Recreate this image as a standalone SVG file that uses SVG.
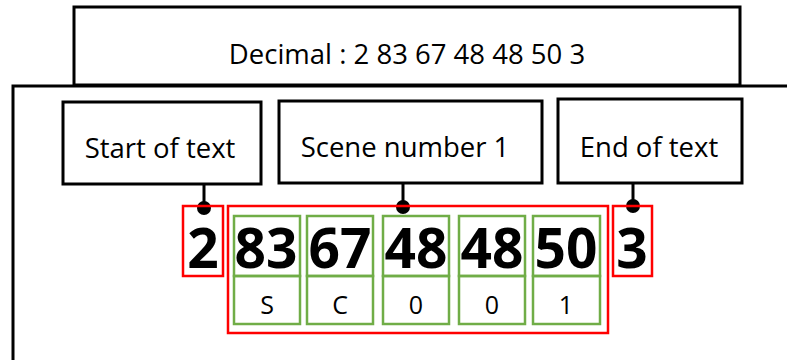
<svg xmlns="http://www.w3.org/2000/svg" width="787" height="360" viewBox="0 0 787 360">
<style>
.blk{fill:#fff;stroke:#000;stroke-width:3}
.red{fill:none;stroke:#ff0000;stroke-width:2.5}
.grn{fill:none;stroke:#70ad47;stroke-width:2.5}
.t{font-family:"Open Sans","Noto Sans",sans-serif;fill:#000;text-anchor:middle}
.lbl{font-size:27.5px}
.big{font-size:55px;font-weight:bold}
.sm{font-size:25px}
.con{stroke:#000;stroke-width:3;fill:none}
</style>
<rect id="frame" x="13" y="86" width="800" height="300" class="blk"/>
<g id="decimal"><rect x="74" y="7" width="666" height="78" class="blk"/><text class="t lbl" x="407" y="64">Decimal : 2 83 67 48 48 50 3</text></g>
<g id="start"><rect x="63" y="102" width="198" height="82" class="blk"/><text class="t lbl" x="160" y="158">Start of text</text></g>
<g id="scene"><rect x="279" y="101" width="263" height="82" class="blk"/><text class="t lbl" x="405" y="157">Scene number 1</text></g>
<g id="end"><rect x="558" y="99" width="184" height="84" class="blk"/><text class="t lbl" x="649" y="157">End of text</text></g>
<g id="connectors">
<line class="con" x1="204" y1="184" x2="204" y2="207"/><circle cx="204" cy="208" r="7"/>
<line class="con" x1="403" y1="183" x2="403" y2="206"/><circle cx="403" cy="207" r="7"/>
<line class="con" x1="633" y1="183" x2="633" y2="205"/><circle cx="633" cy="206" r="7"/>
</g>
<g id="stx"><rect x="183" y="206" width="40" height="70" class="red"/><text class="t big" x="203" y="268">2</text></g>
<g id="etx"><rect x="613" y="206" width="39" height="70" class="red"/><text class="t big" x="632" y="268">3</text></g>
<g id="payload"><rect x="228" y="206" width="380" height="127" class="red"/>
<g id="c1"><rect x="234" y="216" width="66" height="60" class="grn"/><rect x="234" y="276" width="66" height="48" class="grn"/><text class="t big" x="266" y="268">83</text><text class="t sm" x="267" y="314">S</text></g>
<g id="c2"><rect x="307" y="216" width="66" height="60" class="grn"/><rect x="307" y="276" width="66" height="48" class="grn"/><text class="t big" x="340" y="268">67</text><text class="t sm" x="340" y="314">C</text></g>
<g id="c3"><rect x="383" y="216" width="66" height="60" class="grn"/><rect x="383" y="276" width="66" height="48" class="grn"/><text class="t big" x="416" y="268">48</text><text class="t sm" x="416" y="314">0</text></g>
<g id="c4"><rect x="459" y="216" width="66" height="60" class="grn"/><rect x="459" y="276" width="66" height="48" class="grn"/><text class="t big" x="492" y="268">48</text><text class="t sm" x="492" y="314">0</text></g>
<g id="c5"><rect x="533" y="216" width="67" height="60" class="grn"/><rect x="533" y="276" width="67" height="48" class="grn"/><text class="t big" x="566" y="268">50</text><text class="t sm" x="566" y="314">1</text></g>
</g>
</svg>
